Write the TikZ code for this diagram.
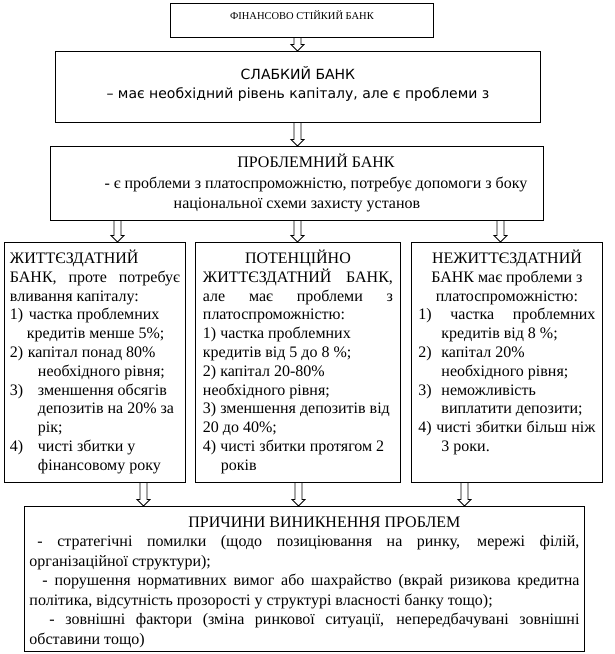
\documentclass[tikz,border=0pt]{standalone}
\usepackage{fontspec}
\setmainfont{Liberation Serif}
\newfontfamily\sansf{DejaVu Sans}
\usetikzlibrary{calc}

% one line of a box: justified, centred, flush left
\newcommand{\jl}[1]{\makebox[\linewidth][s]{#1}}
\newcommand{\cl}[1]{\makebox[\linewidth][c]{#1}}
\newcommand{\fl}[1]{\makebox[\linewidth][l]{#1}}
\newcommand{\itemno}[2]{\makebox[#1][l]{#2}}
% box body: height, width, first baseline, lines
\newcommand{\boxbody}[4]{\parbox[t][#1][t]{#2}{\rule{0pt}{#3}#4}}
% hollow down arrow, from a point down to the level of a node
\newcommand{\blockarrow}[2]{%
  \draw[blockarr] let \p1=#1, \p2=#2 in
    (\x1-3.5pt,\y1) -- (\x1-3.5pt,\y2+6.5pt) -- (\x1-6.5pt,\y2+6.5pt) -- (\x1,\y2)
    -- (\x1+6.5pt,\y2+6.5pt) -- (\x1+3.5pt,\y2+6.5pt) -- (\x1+3.5pt,\y1);}

\begin{document}
\begin{tikzpicture}[x=1pt,y=-1pt,
  box/.style={draw,line width=0.9pt,anchor=north west,inner ysep=0pt,inner xsep=5pt},
  body/.style={font=\fontsize{16}{18.8}\selectfont},
  blockarr/.style={draw,line width=0.8pt,line join=miter}]

\useasboundingbox (0,0) rectangle (615,654);

% --- 1. top boxes
\node[box,font=\fontsize{10.5}{12}\selectfont] (fin) at (170,3)
  {\boxbody{34pt}{253pt}{16.5pt}{\cl{ФІНАНСОВО СТІЙКИЙ БАНК}}};
\node[box,font=\sansf\fontsize{14}{19.5}\selectfont] (weak) at (55,51)
  {\boxbody{71pt}{475pt}{28pt}{\cl{СЛАБКИЙ БАНК}\\
   \cl{– має необхідний рівень капіталу, але є проблеми з}}};
\node[box,font=\fontsize{16}{20.5}\selectfont] (prob) at (50,146)
  {\boxbody{74pt}{483pt}{21.5pt}{\cl{\hspace*{38pt}ПРОБЛЕМНИЙ БАНК}\\
   \cl{\hspace*{38pt}- є проблеми з платоспроможністю, потребує допомоги з боку}\\
   \cl{національної схеми захисту установ}}};

% --- 2. three kinds of bank
\node[box,body,inner xsep=5.5pt] (live) at (4,242)
  {\boxbody{240pt}{170pt}{21pt}{\fl{ЖИТТЄЗДАТНИЙ}\\
   \jl{БАНК, проте потребує}\\
   \fl{вливання капіталу:}\\
   \fl{\itemno{19pt}{1)}частка проблемних}\\
   \fl{\hspace*{17pt}кредитів менше 5\%;}\\
   \fl{\itemno{18pt}{2)}капітал понад 80\%}\\
   \fl{\hspace*{28pt}необхідного рівня;}\\
   \fl{\itemno{28pt}{3)}зменшення обсягів}\\
   \fl{\hspace*{28pt}депозитів на 20\% за}\\
   \fl{\hspace*{28pt}рік;}\\
   \fl{\itemno{28pt}{4)}чисті збитки у}\\
   \fl{\hspace*{28pt}фінансовому року}}};
\node[box,body,inner xsep=7.5pt] (pot) at (195,242)
  {\boxbody{240pt}{190pt}{21pt}{\cl{ПОТЕНЦІЙНО}\\
   \jl{ЖИТТЄЗДАТНИЙ БАНК,}\\
   \jl{але має проблеми з}\\
   \fl{платоспроможністю:}\\
   \fl{1) частка проблемних}\\
   \fl{кредитів від 5 до 8 \%;}\\
   \fl{2) капітал 20-80\%}\\
   \fl{необхідного рівня;}\\
   \fl{3) зменшення депозитів від}\\
   \fl{20 до 40\%;}\\
   \fl{4) чисті збитки протягом 2}\\
   \fl{\hspace*{18pt}років}}};
\node[box,body,inner xsep=7pt] (dead) at (411,242)
  {\boxbody{240pt}{177pt}{21pt}{\cl{НЕЖИТТЄЗДАТНИЙ}\\
   \cl{БАНК має проблеми з}\\
   \cl{платоспроможністю:}\\
   \jl{1) частка проблемних}\\
   \fl{\hspace*{23pt}кредитів від 8 \%;}\\
   \fl{\itemno{23pt}{2)}капітал 20\%}\\
   \fl{\hspace*{23pt}необхідного рівня;}\\
   \fl{\itemno{23pt}{3)}неможливість}\\
   \fl{\hspace*{23pt}виплатити депозити;}\\
   \jl{4) чисті збитки більш ніж}\\
   \fl{\hspace*{23pt}3 роки.}}};

% --- 3. causes
\node[box,font=\fontsize{16}{19.5}\selectfont] (causes) at (24,506)
  {\boxbody{145pt}{550pt}{21pt}{\cl{\hspace*{40pt}ПРИЧИНИ ВИНИКНЕННЯ ПРОБЛЕМ}\\
   \jl{\hspace*{8pt}- стратегічні помилки (щодо позиціювання на ринку, мережі філій,}\\
   \fl{організаційної структури);}\\
   \jl{\hspace*{13pt}- порушення нормативних вимог або шахрайство (вкрай ризикова кредитна}\\
   \fl{політика, відсутність прозорості у структурі власності банку тощо);}\\
   \jl{\hspace*{20pt}- зовнішні фактори (зміна ринкової ситуації, непередбачувані зовнішні}\\
   \fl{обставини тощо)}}};

% --- arrows
\blockarrow{([xshift=-4.5pt]fin.south)}{(weak.north)}
\blockarrow{([xshift=-0.5pt]weak.south)}{(prob.north)}
\blockarrow{([xshift=-179.5pt]prob.south)}{(live.north)}
\blockarrow{([xshift=0.5pt]prob.south)}{(pot.north)}
\blockarrow{([xshift=203.5pt]prob.south)}{(dead.north)}
\blockarrow{([xshift=48.5pt]live.south)}{(causes.north)}
\blockarrow{([xshift=0.5pt]pot.south)}{(causes.north)}
\blockarrow{([xshift=-42.5pt]dead.south)}{(causes.north)}
\end{tikzpicture}
\end{document}
